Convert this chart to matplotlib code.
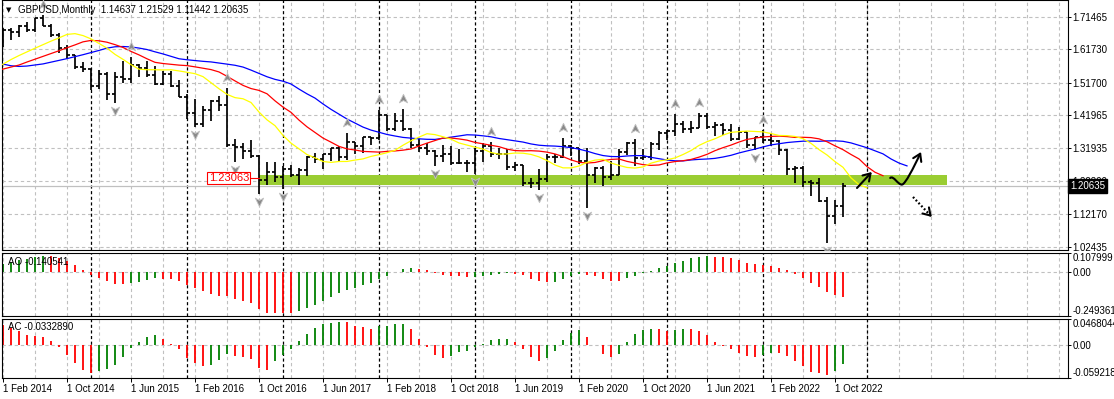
import matplotlib
matplotlib.use("Agg")
import matplotlib.pyplot as plt
import matplotlib.transforms as mtransforms
from matplotlib.collections import LineCollection
from matplotlib.patches import Rectangle, FancyArrowPatch
from matplotlib.path import Path
import numpy as np
import pandas as pd

plt.rcParams["font.family"] = ["Liberation Sans", "DejaVu Sans"]
plt.rcParams["font.size"] = 7

# GBPUSD monthly bars, Nov 2010 .. Nov 2022.
# Bars before Feb 2014 sit left of the view and only warm up the indicators.
first_month = "2010-11-01"
first_shown = 39  # Feb 2014

bar_open = [
    1.6020, 1.5575,
    1.5605, 1.6030, 1.6250, 1.6040, 1.6700, 1.6450, 1.6060, 1.6430, 1.6240, 1.5590, 1.6080, 1.5690,
    1.5540, 1.5750, 1.5915, 1.6000, 1.6230, 1.5420, 1.5695, 1.5680, 1.5870, 1.6150, 1.6120, 1.6020,
    1.6250, 1.5860, 1.5180, 1.5190, 1.5530, 1.5190, 1.5210, 1.5210, 1.5490, 1.6190, 1.6035, 1.6360,
    1.6560, 1.6440, 1.6745, 1.6675, 1.6880, 1.6760, 1.7105, 1.6880, 1.6595, 1.6215, 1.5995, 1.5640,
    1.5575, 1.5060, 1.5435, 1.4820, 1.5350, 1.5285, 1.5710, 1.5615, 1.5385, 1.5125, 1.5435, 1.5060,
    1.4740, 1.4245, 1.3920, 1.4360, 1.4615, 1.4485, 1.3310, 1.3230, 1.3125, 1.2975, 1.2235, 1.2485,
    1.2340, 1.2580, 1.2410, 1.2550, 1.2940, 1.2885, 1.3025, 1.3210, 1.2925, 1.3400, 1.3280, 1.3525,
    1.3505, 1.4190, 1.3775, 1.4025, 1.3765, 1.3300, 1.3205, 1.3125, 1.2970, 1.3035, 1.2770, 1.2745,
    1.2755, 1.3105, 1.3260, 1.3030, 1.3035, 1.2625, 1.2695, 1.2160, 1.2160, 1.2290, 1.2940, 1.2935,
    1.3260, 1.3205, 1.2825, 1.2405, 1.2595, 1.2345, 1.2400, 1.3095, 1.3370, 1.2920, 1.2945, 1.3325,
    1.3670, 1.3705, 1.3925, 1.3780, 1.3815, 1.4180, 1.3830, 1.3905, 1.3755, 1.3475, 1.3680, 1.3300,
    1.3530, 1.3445, 1.3415, 1.3140, 1.2575, 1.2600, 1.2175, 1.2170, 1.1620, 1.1165, 1.14637,
]
bar_high = [
    1.6300, 1.5810,
    1.6060, 1.6280, 1.6420, 1.6740, 1.6750, 1.6470, 1.6470, 1.6620, 1.6280, 1.6170, 1.6100, 1.5780,
    1.5800, 1.5930, 1.6060, 1.6300, 1.6270, 1.5780, 1.5750, 1.5900, 1.6310, 1.6200, 1.6130, 1.6310,
    1.6380, 1.5870, 1.5250, 1.5540, 1.5600, 1.5750, 1.5350, 1.5720, 1.6200, 1.6260, 1.6380, 1.6600,
    1.6670, 1.6820, 1.6820, 1.6895, 1.6995, 1.7110, 1.7190, 1.6925, 1.6645, 1.6290, 1.6010, 1.5785,
    1.5590, 1.5555, 1.5500, 1.5500, 1.5815, 1.5930, 1.5720, 1.5820, 1.5660, 1.5510, 1.5530, 1.5245,
    1.4815, 1.4670, 1.4460, 1.4640, 1.4770, 1.5020, 1.3480, 1.3370, 1.3445, 1.2985, 1.2775, 1.2775,
    1.2675, 1.2705, 1.2615, 1.2965, 1.3050, 1.3030, 1.3210, 1.3270, 1.3655, 1.3400, 1.3550, 1.3550,
    1.4345, 1.4200, 1.4245, 1.4375, 1.3795, 1.3475, 1.3365, 1.3140, 1.3300, 1.3260, 1.3175, 1.2840,
    1.3215, 1.3350, 1.3380, 1.3195, 1.3175, 1.2785, 1.2710, 1.2305, 1.2580, 1.3015, 1.3015, 1.3515,
    1.3285, 1.3210, 1.3200, 1.2650, 1.2670, 1.2815, 1.3170, 1.3395, 1.3480, 1.3175, 1.3400, 1.3705,
    1.3760, 1.4240, 1.4015, 1.4010, 1.4250, 1.4250, 1.3985, 1.3960, 1.3915, 1.3835, 1.3700, 1.3545,
    1.3750, 1.3645, 1.3440, 1.3165, 1.2665, 1.2665, 1.2245, 1.2295, 1.1740, 1.1645, 1.21529,
]
bar_low = [
    1.5500, 1.5350,
    1.5340, 1.5960, 1.5970, 1.6030, 1.6170, 1.5910, 1.6000, 1.6100, 1.5270, 1.5270, 1.5420, 1.5330,
    1.5230, 1.5650, 1.5600, 1.5800, 1.5270, 1.5270, 1.5350, 1.5500, 1.5710, 1.5910, 1.5830, 1.6010,
    1.5750, 1.5120, 1.4830, 1.5000, 1.5010, 1.5170, 1.4810, 1.5100, 1.5420, 1.5890, 1.5850, 1.6240,
    1.6250, 1.6250, 1.6460, 1.6550, 1.6690, 1.6690, 1.6880, 1.6535, 1.6050, 1.5875, 1.5590, 1.5485,
    1.4950, 1.4990, 1.4635, 1.4565, 1.5170, 1.5170, 1.5330, 1.5330, 1.5105, 1.5105, 1.5025, 1.4740,
    1.4080, 1.3835, 1.3835, 1.4005, 1.4330, 1.3230, 1.2800, 1.2865, 1.2915, 1.1840, 1.2085, 1.2200,
    1.1985, 1.2345, 1.2110, 1.2365, 1.2770, 1.2590, 1.2810, 1.2775, 1.2855, 1.3027, 1.3060, 1.3300,
    1.3455, 1.3710, 1.3710, 1.3710, 1.3205, 1.3100, 1.3010, 1.2660, 1.2785, 1.2695, 1.2725, 1.2475,
    1.2440, 1.2775, 1.2945, 1.2865, 1.2560, 1.2505, 1.2080, 1.2015, 1.1960, 1.2195, 1.2770, 1.2905,
    1.2955, 1.2725, 1.1410, 1.2165, 1.2075, 1.2250, 1.2390, 1.3005, 1.2675, 1.2840, 1.2855, 1.3135,
    1.3450, 1.3565, 1.3670, 1.3670, 1.3800, 1.3785, 1.3570, 1.3600, 1.3410, 1.3435, 1.3195, 1.3160,
    1.3360, 1.3270, 1.3000, 1.2410, 1.2155, 1.2040, 1.1760, 1.1600, 1.0350, 1.0925, 1.11442,
]
bar_close = [
    1.5575, 1.5605,
    1.6030, 1.6250, 1.6040, 1.6700, 1.6450, 1.6060, 1.6430, 1.6240, 1.5590, 1.6080, 1.5690, 1.5540,
    1.5750, 1.5915, 1.6000, 1.6230, 1.5420, 1.5695, 1.5680, 1.5870, 1.6150, 1.6120, 1.6020, 1.6250,
    1.5860, 1.5180, 1.5190, 1.5530, 1.5190, 1.5210, 1.5210, 1.5490, 1.6190, 1.6035, 1.6360, 1.6560,
    1.6440, 1.6745, 1.6675, 1.6880, 1.6760, 1.7105, 1.6880, 1.6595, 1.6215, 1.5995, 1.5640, 1.5575,
    1.5060, 1.5435, 1.4820, 1.5350, 1.5285, 1.5710, 1.5615, 1.5385, 1.5125, 1.5435, 1.5060, 1.4740,
    1.4245, 1.3920, 1.4360, 1.4615, 1.4485, 1.3310, 1.3230, 1.3125, 1.2975, 1.2235, 1.2485, 1.2340,
    1.2580, 1.2410, 1.2550, 1.2940, 1.2885, 1.3025, 1.3210, 1.2925, 1.3400, 1.3280, 1.3525, 1.3505,
    1.4190, 1.3775, 1.4025, 1.3765, 1.3300, 1.3205, 1.3125, 1.2970, 1.3035, 1.2770, 1.2745, 1.2755,
    1.3105, 1.3260, 1.3030, 1.3035, 1.2625, 1.2695, 1.2160, 1.2160, 1.2290, 1.2940, 1.2935, 1.3260,
    1.3205, 1.2825, 1.2405, 1.2595, 1.2345, 1.2400, 1.3095, 1.3370, 1.2920, 1.2945, 1.3325, 1.3670,
    1.3705, 1.3925, 1.3780, 1.3815, 1.4180, 1.3830, 1.3905, 1.3755, 1.3475, 1.3680, 1.3300, 1.3530,
    1.3445, 1.3415, 1.3140, 1.2575, 1.2600, 1.2175, 1.2170, 1.1620, 1.1165, 1.1465, 1.20635,
]

symbol_caption = "GBPUSD,Monthly  1.14637 1.21529 1.11442 1.20635"
ao_caption = "AO -0.140541"
ac_caption = "AC -0.0332890"

price_ticks = [1.71465, 1.61730, 1.51700, 1.41965, 1.31935, 1.22200, 1.12170, 1.02435]
ao_ticks = [0.107999, 0.0, -0.249361]
ao_tick_labels = ["0.107999", "0.00", "-0.249361"]
ac_ticks = [0.0468044, 0.0, -0.059218]
ac_tick_labels = ["0.0468044", "0.00", "-0.059218"]

bid_price = 1.20635
level_price = 1.23063
zone_low, zone_high = 1.2086, 1.2386
zone_start, zone_end = 32, 118          # bar offsets from Feb 2014
future_separator = 108                   # year separator drawn in the empty right margin

# hand drawn trend arrows (bar offset, price)
arrow_up = [(106.75, 1.2008), (108.6, 1.2488)]
wave_pts = [(110.9, 1.2308), (111.3, 1.2400), (111.9, 1.2085), (112.4, 1.2112),
            (112.8, 1.2135), (113.8, 1.2600), (114.75, 1.3088)]
arrow_down = [(113.75, 1.1738), (116.1, 1.1140)]

W, H = 1114, 399


def px_axes(fig, left, top, right, bottom):
    return fig.add_axes([left / W, 1 - bottom / H, (right - left) / W, (bottom - top) / H])


def smma(values, period):
    out = np.full(len(values), np.nan)
    out[period - 1] = values[:period].mean()
    for i in range(period, len(values)):
        out[i] = (out[i - 1] * (period - 1) + values[i]) / period
    return out


o = np.array(bar_open)
h = np.array(bar_high)
l = np.array(bar_low)
c = np.array(bar_close)
n = len(c)
dates = pd.date_range(first_month, periods=n, freq="MS")
xs = np.arange(n) - first_shown
median = (h + l) / 2

# Alligator (jaw / teeth / lips) on median price
jaw = smma(median, 13)
teeth = smma(median, 8)
lips = smma(median, 5)

# Awesome and accelerator oscillators
med = pd.Series(median)
ao = med.rolling(5).mean() - med.rolling(34).mean()
ac = ao - ao.rolling(5).mean()

fig = plt.figure(figsize=(W / 100, H / 100), dpi=100)
main = px_axes(fig, 2, 0, 1068, 250)
ax_ao = px_axes(fig, 2, 253, 1068, 316)
ax_ac = px_axes(fig, 2, 319, 1068, 378)
panels = [main, ax_ao, ax_ac]

grid_c = "#c0c0c0"
for ax in panels:
    ax.set_xlim(-0.125, 133.125)
    for side in ax.spines.values():
        side.set_linewidth(0.8)
        side.set_color("black")
    ax.yaxis.tick_right()
    ax.tick_params(axis="y", length=2.2, width=0.7, pad=1.0, labelsize=7)
    ax.tick_params(axis="x", bottom=False, labelbottom=False)
    for gx in range(0, 134, 4):
        ax.axvline(gx, color=grid_c, lw=0.8, ls=(0, (3, 2.5)), zorder=0.5)
    for sx in list(xs[(dates.month == 1) & (xs > 0)]) + [future_separator]:
        ax.axvline(sx, color="black", lw=0.9, ls=(0, (2.5, 2)), zorder=0.6)

# ---- price panel
main.set_ylim(1.01475, 1.76475)
main.set_yticks(price_ticks)
main.set_yticklabels([f"{v:.5f}" for v in price_ticks])
for v in price_ticks:
    main.axhline(v, color=grid_c, lw=0.8, ls=(0, (3, 2.5)), zorder=0.5)

main.add_patch(Rectangle((zone_start, zone_low), zone_end - zone_start, zone_high - zone_low,
                         facecolor="#9acd32", edgecolor="none", zorder=1))
main.axhline(bid_price, color="#c0c0c0", lw=0.9, zorder=1.1)

segs = []
for x, oo, hh, ll, cc in zip(xs, o, h, l, c):
    segs.append([(x, ll), (x, hh)])
    segs.append([(x - 0.42, oo), (x, oo)])
    segs.append([(x, cc), (x + 0.42, cc)])
main.add_collection(LineCollection(segs, colors="black", linewidths=1.25, zorder=2))

main.plot(xs + 8, jaw, color="#0000ff", lw=0.9, zorder=3)
main.plot(xs + 5, teeth, color="#ff0000", lw=0.9, zorder=3)
main.plot(xs + 3, lips, color="#ffff00", lw=0.9, zorder=3)

# fractals
up_i = [i for i in range(2, n - 2)
        if h[i] > h[i - 1] and h[i] > h[i - 2] and h[i] >= h[i + 1] and h[i] >= h[i + 2]]
dn_i = [i for i in range(2, n - 2)
        if l[i] < l[i - 1] and l[i] < l[i - 2] and l[i] <= l[i + 1] and l[i] <= l[i + 2]]
up_mark = Path([(0, 1), (0.8, -0.65), (0, -0.2), (-0.8, -0.65), (0, 1)],
               [Path.MOVETO, Path.LINETO, Path.LINETO, Path.LINETO, Path.CLOSEPOLY])
dn_mark = Path([(0, -1), (0.8, 0.65), (0, 0.2), (-0.8, 0.65), (0, -1)],
               [Path.MOVETO, Path.LINETO, Path.LINETO, Path.LINETO, Path.CLOSEPOLY])
up_tr = mtransforms.offset_copy(main.transData, fig=fig, y=7.2, units="points")
dn_tr = mtransforms.offset_copy(main.transData, fig=fig, y=-5.2, units="points")
main.plot(xs[up_i], h[up_i], ls="none", marker=up_mark, ms=7.5, mfc="#8a8a8a",
          mec="#c4c4c4", mew=0.6, transform=up_tr, zorder=4)
main.plot(xs[dn_i], l[dn_i], ls="none", marker=dn_mark, ms=7.5, mfc="#8a8a8a",
          mec="#c4c4c4", mew=0.6, transform=dn_tr, zorder=4)

# price label of the level
main.plot([zone_start - 1.25, zone_start], [level_price, level_price], color="red", lw=0.8, zorder=3)
main.text(zone_start - 1.25, level_price, f"{level_price:.5f}", ha="right", va="center",
          color="red", fontsize=8, zorder=5,
          bbox=dict(boxstyle="square,pad=0.12", fc="white", ec="red", lw=0.8))

# bid label on the price scale
bid_tr = mtransforms.blended_transform_factory(main.transAxes, main.transData)
main.text(1.002, bid_price, f"{bid_price:.5f}", transform=bid_tr, ha="left", va="center",
          color="white", fontsize=7, zorder=6, clip_on=False,
          bbox=dict(boxstyle="square,pad=0.22", fc="black", ec="black"))

# drawn arrows
head = "->,head_length=0.5,head_width=0.32"
main.annotate("", xy=arrow_up[1], xytext=arrow_up[0],
              arrowprops=dict(arrowstyle=head, lw=1.5, color="black", shrinkA=0, shrinkB=0,
                              mutation_scale=10), zorder=5)
wave = Path(wave_pts, [Path.MOVETO] + [Path.CURVE4] * 6)
main.add_patch(FancyArrowPatch(path=wave, arrowstyle=head, mutation_scale=10, lw=1.5,
                               color="black", zorder=5))
(x0, y0), (x1, y1) = arrow_down
main.plot([x0, x1], [y0, y1], color="black", lw=1.6, ls=(0, (0.8, 1.0)), zorder=5)
main.annotate("", xy=(x1, y1), xytext=(x1 - 0.12 * (x1 - x0), y1 - 0.12 * (y1 - y0)),
              arrowprops=dict(arrowstyle=head, lw=1.5, color="black", shrinkA=0, shrinkB=0,
                              mutation_scale=10), zorder=5)

# ---- oscillator panels
green, red = "#008000", "#ff0000"
for ax, ser, ticks, labels in [(ax_ao, ao, ao_ticks, ao_tick_labels),
                               (ax_ac, ac, ac_ticks, ac_tick_labels)]:
    ax.set_ylim(ticks[2], ticks[0])
    ax.axhline(0, color=grid_c, lw=0.8, ls=(0, (3, 2.5)), zorder=0.5)
    vals = ser.values
    diff = ser.diff().values
    keep = (xs >= -1) & ~np.isnan(vals)
    cols = np.where(diff[keep] > 0, green, red)
    ax.vlines(xs[keep], 0, vals[keep], colors=cols, lw=1.3, zorder=2)
    ax.set_yticks(ticks)
    ax.set_yticklabels(labels)
    tl = ax.get_yticklabels()
    tl[0].set_va("top")
    tl[-1].set_va("bottom")

label_x = list(range(0, 106, 8))
ax_ac.set_xticks(label_x)
ax_ac.set_xticklabels([f"1 {dates[first_shown + k]:%b %Y}" for k in label_x], ha="left")
ax_ac.tick_params(axis="x", bottom=True, labelbottom=True, length=3, width=0.7, pad=1.5,
                  labelsize=7)

# captions
fig.text(9 / W, 1 - 10 / H, "\u25bc", fontsize=5, family="DejaVu Sans", ha="center", va="center")
fig.text(18 / W, 1 - 10 / H, symbol_caption, ha="left", va="center", fontsize=7)
fig.text(8 / W, 1 - 262 / H, ao_caption, ha="left", va="center", fontsize=7)
fig.text(8 / W, 1 - 327 / H, ac_caption, ha="left", va="center", fontsize=7)

fig.savefig("out.png", dpi=100)
plt.close(fig)
